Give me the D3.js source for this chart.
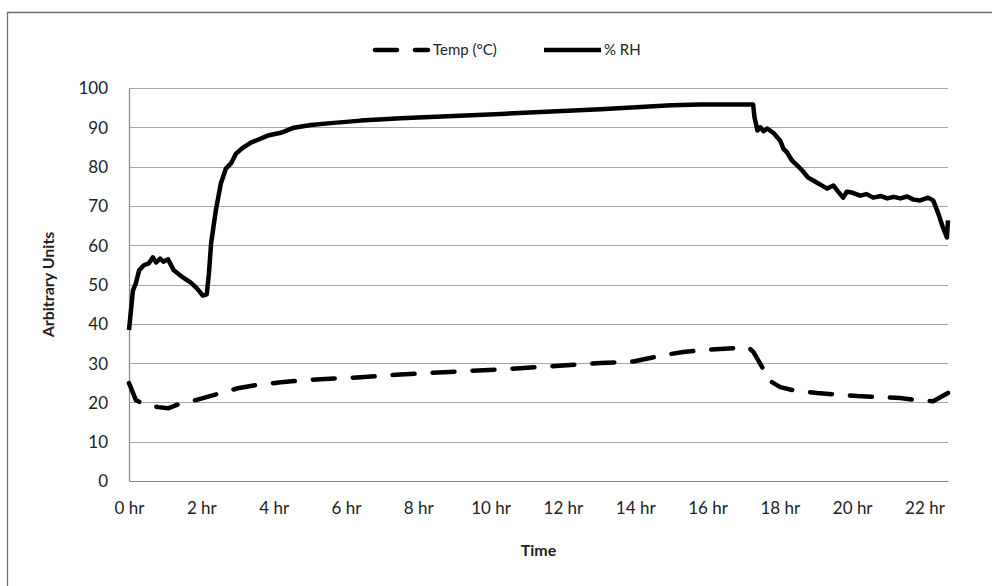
<!DOCTYPE html>
<html>
<head>
<meta charset="utf-8">
<script src="https://cdn.jsdelivr.net/npm/d3@7"></script>
<style>
	body { margin: 0; background: #fff; }
	svg text { font-family: Lato, "Open Sans", sans-serif; fill: #222; }
</style>
</head>
<body>
<div id="chart"></div>
<script>
// chart data (hours since start)
var rhHours = [0, 0.11, 0.19, 0.28, 0.41, 0.55, 0.66, 0.75, 0.86, 0.95, 1.08, 1.24, 1.49, 1.71, 1.88, 2.04, 2.15, 2.21, 2.27, 2.40,
	2.54, 2.68, 2.82, 2.96, 3.15, 3.37, 3.84, 4.20, 4.56, 5.03, 5.50, 6.41, 7.51, 10.28, 13.04, 15.0, 15.8, 17.26, 17.30, 17.38,
	17.46, 17.55, 17.65, 17.82, 18.01, 18.10, 18.20, 18.34, 18.48, 18.62, 18.78, 18.90, 19.03, 19.31, 19.48, 19.59, 19.75, 19.85, 20.0, 20.22,
	20.40, 20.58, 20.80, 20.97, 21.15, 21.33, 21.52, 21.70, 21.88, 22.10, 22.24, 22.38, 22.51, 22.62, 22.65];
var rhValues = [38.4, 48.5, 50.3, 53.6, 54.9, 55.4, 56.9, 55.6, 56.6, 55.8, 56.4, 53.6, 51.8, 50.5, 49.0, 47.2, 47.5, 52.8, 60.4, 68.8,
	75.7, 79.5, 80.8, 83.3, 84.8, 86.1, 87.9, 88.6, 89.9, 90.6, 91.0, 91.7, 92.3, 93.4, 94.6, 95.6, 95.8, 95.8, 92.5, 89.2,
	90.0, 89.0, 89.7, 88.6, 86.6, 84.5, 83.6, 81.5, 80.3, 79.0, 77.2, 76.6, 75.9, 74.4, 75.2, 73.9, 72.1, 73.6, 73.4, 72.6,
	73.0, 72.1, 72.5, 71.9, 72.3, 71.9, 72.4, 71.6, 71.4, 72.1, 71.4, 68.1, 64.5, 62.0, 66.3];

var tempHours = [0, 0.11, 0.19, 0.39, 0.80, 1.08, 1.44, 1.85, 2.54, 3.01, 3.65, 4.20, 4.75, 5.30, 6.41, 7.51, 10.28, 13.04, 13.95, 14.89,
	15.33, 15.88, 16.71, 17.13, 17.27, 17.51, 17.68, 18.01, 18.37, 19.03, 20.14, 21.33, 21.80, 22.24, 22.65];
var tempValues = [24.9, 22.4, 20.6, 19.6, 18.8, 18.5, 19.8, 20.6, 22.4, 23.6, 24.6, 25.1, 25.6, 25.9, 26.4, 27.1, 28.4, 30.0, 30.4, 32.2,
	32.8, 33.3, 33.8, 34.0, 32.8, 29.0, 25.7, 23.9, 23.1, 22.4, 21.6, 21.1, 20.6, 20.3, 22.4];

var xTicks = [0, 2, 4, 6, 8, 10, 12, 14, 16, 18, 20, 22];
var yTicks = [0, 10, 20, 30, 40, 50, 60, 70, 80, 90, 100];
var seriesNames = ["Temp (°C)", "% RH"];

// layout
var W = 992, H = 586,
	margin = {top: 88, right: 44, bottom: 105, left: 129},
	w = W - margin.left - margin.right,
	h = H - margin.top - margin.bottom;

var svg = d3.select("#chart").append("svg")
	.attr("width", W)
	.attr("height", H);

// outer chart frame (cropped at right/bottom)
svg.append("path")
	.attr("d", "M7.5," + H + "V12.5H" + W)
	.attr("fill", "none")
	.attr("stroke", "#6e6e6e")
	.attr("stroke-width", 1.3);

var g = svg.append("g").attr("transform", "translate(" + margin.left + "," + margin.top + ")");

var x = d3.scaleLinear().domain([0, 22.65]).range([0, w]);
var y = d3.scaleLinear().domain([0, 100]).range([h, 0]);

// gridlines
g.selectAll("line.grid")
	.data(yTicks.filter(function(d) { return d > 0; }))
	.enter().append("line")
	.attr("class", "grid")
	.attr("x1", 0).attr("x2", w)
	.attr("y1", function(d) { return Math.round(y(d)) + 0.5; })
	.attr("y2", function(d) { return Math.round(y(d)) + 0.5; })
	.attr("stroke", "#a6a6a6")
	.attr("stroke-width", 1);

// axes
var yAxis = g.append("g")
	.call(d3.axisLeft(y).tickValues(yTicks).tickSize(0).tickPadding(21));
var xAxis = g.append("g")
	.attr("transform", "translate(0," + h + ")")
	.call(d3.axisBottom(x).tickValues(xTicks).tickSize(0).tickPadding(21)
		.tickFormat(function(d) { return d + " hr"; }));

[yAxis, xAxis].forEach(function(ax) {
	ax.select(".domain").attr("stroke", "#868686").attr("stroke-width", 1.2);
	ax.selectAll("text")
		.attr("font-size", 17)
		.style("font-family", "Lato, sans-serif")
		.attr("fill", "#222");
	ax.attr("font-family", null);
});
yAxis.selectAll("text").attr("dy", "0.35em");
xAxis.selectAll("text").attr("dy", "0.71em");

// axis titles
g.append("text")
	.attr("x", w / 2)
	.attr("y", h + 75)
	.attr("text-anchor", "middle")
	.attr("font-size", 16)
	.attr("font-weight", "bold")
	.text("Time");

g.append("text")
	.attr("transform", "translate(" + (48 - margin.left + 6) + "," + (h / 2) + ") rotate(-90)")
	.attr("text-anchor", "middle")
	.attr("font-size", 16)
	.attr("font-weight", "bold")
	.text("Arbitrary Units");

// series lines
var line = d3.line()
	.x(function(d) { return x(d[0]); })
	.y(function(d) { return y(d[1]); });

var tempData = d3.zip(tempHours, tempValues),
	rhData = d3.zip(rhHours, rhValues);

g.append("path")
	.datum(tempData)
	.attr("d", line)
	.attr("fill", "none")
	.attr("stroke", "#000")
	.attr("stroke-width", 4.5)
	.attr("stroke-linecap", "round")
	.attr("stroke-linejoin", "round")
	.attr("stroke-dasharray", "22,18");

g.append("path")
	.datum(rhData)
	.attr("d", line)
	.attr("fill", "none")
	.attr("stroke", "#000")
	.attr("stroke-width", 4.5)
	.attr("stroke-linejoin", "round");

// legend
var legend = svg.append("g").attr("transform", "translate(0,50)");
legend.append("line")
	.attr("x1", 375).attr("x2", 428).attr("y1", 0).attr("y2", 0)
	.attr("stroke", "#000").attr("stroke-width", 4.5)
	.attr("stroke-linecap", "round")
	.attr("stroke-dasharray", "22,18");
legend.append("text")
	.attr("x", 433).attr("y", 0).attr("dy", "0.35em")
	.attr("font-size", 15)
	.text(seriesNames[0]);
legend.append("line")
	.attr("x1", 544).attr("x2", 601).attr("y1", 0).attr("y2", 0)
	.attr("stroke", "#000").attr("stroke-width", 4.5);
legend.append("text")
	.attr("x", 604).attr("y", 0).attr("dy", "0.35em")
	.attr("font-size", 15)
	.text(seriesNames[1]);
</script>
</body>
</html>
